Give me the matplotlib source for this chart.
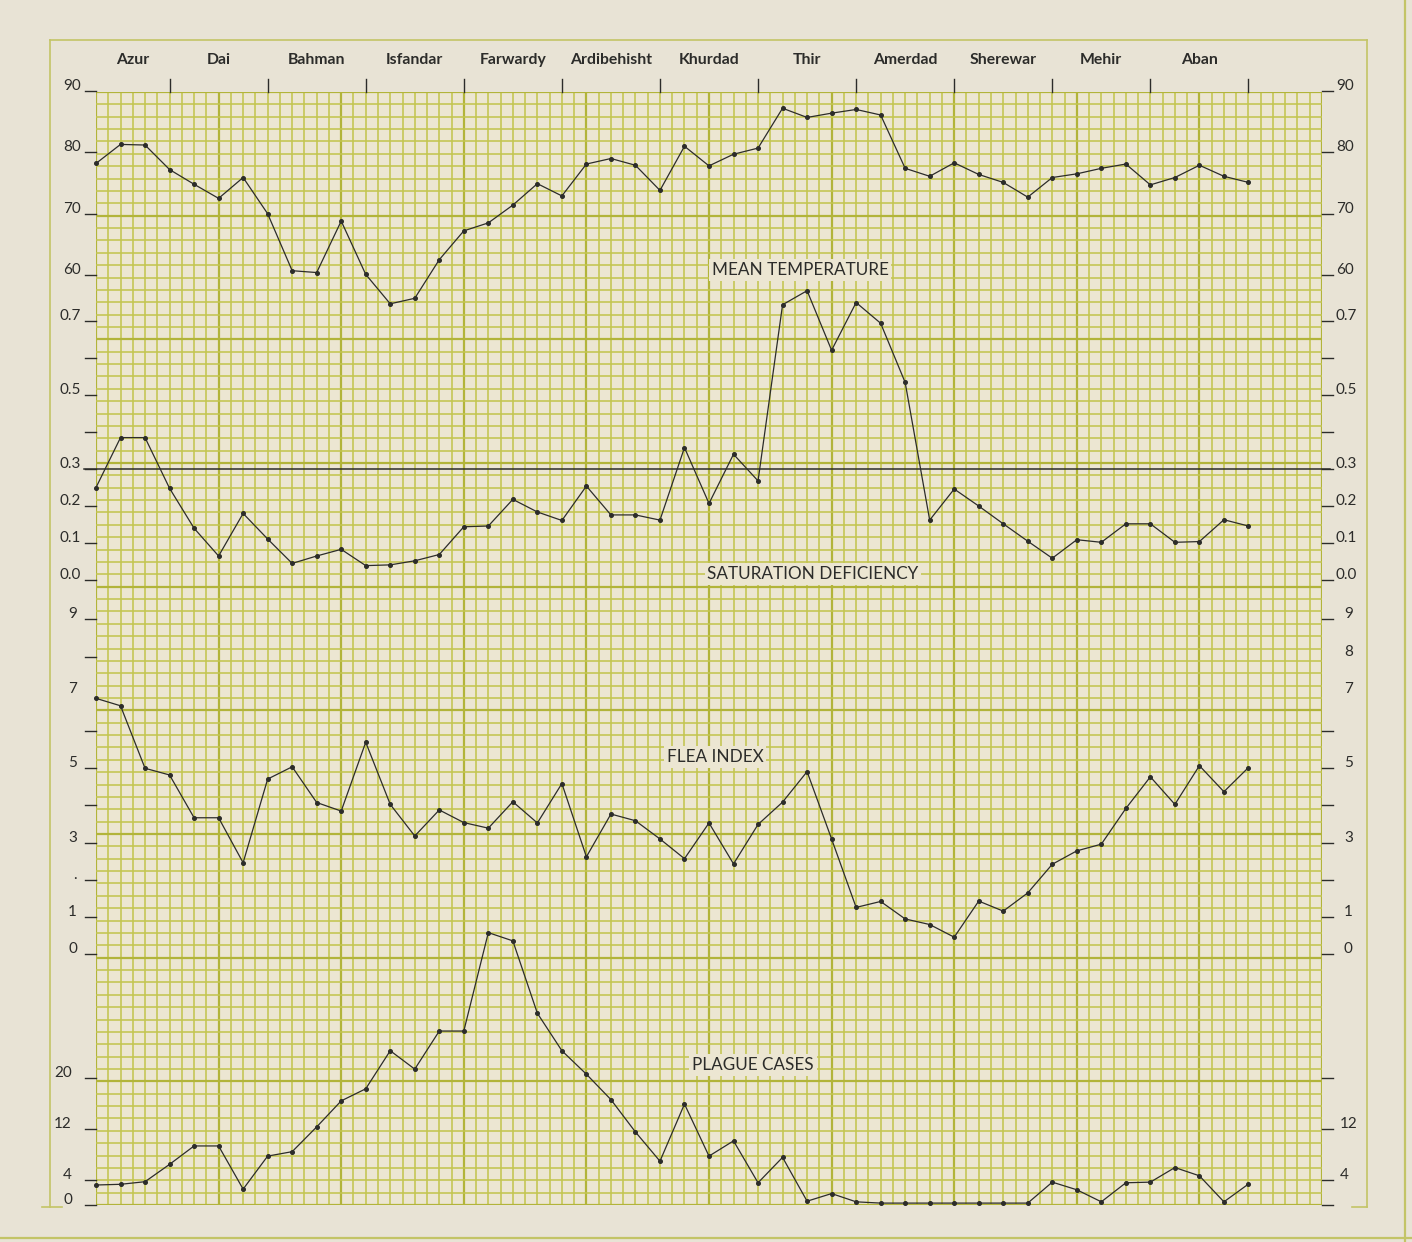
import numpy as np
import matplotlib
matplotlib.use("Agg")
import matplotlib.pyplot as plt
from matplotlib.lines import Line2D
from matplotlib.transforms import blended_transform_factory, ScaledTranslation

plt.rcParams['font.family'] = ['Lato', 'DejaVu Sans']

# ---- data: weekly readings, Azur through Aban ----
months = ["Azur", "Dai", "Bahman", "Isfandar", "Farwardy", "Ardibehisht",
          "Khurdad", "Thir", "Amerdad", "Sherewar", "Mehir", "Aban"]
month_ends = [3, 7, 11, 15, 19, 23, 27, 31, 35, 39, 43, 47]

mean_temp = [78.2, 81.3, 81.2, 77.2, 74.8, 72.5, 75.9, 70.0, 60.7, 60.4,
             68.8, 60.1, 55.3, 56.2, 62.5, 67.2, 68.5, 71.4, 74.9, 72.9,
             78.1, 79.0, 77.9, 73.8, 81.0, 77.8, 79.7, 80.7, 87.2, 85.7,
             86.4, 87.0, 86.1, 77.4, 76.1, 78.3, 76.4, 75.1, 72.7, 75.9,
             76.5, 77.4, 78.1, 74.7, 75.9, 77.9, 76.1, 75.1]

sat_deficiency = [0.25, 0.385, 0.385, 0.248, 0.14, 0.065, 0.18, 0.111, 0.045, 0.065,
                  0.083, 0.039, 0.041, 0.052, 0.069, 0.144, 0.146, 0.218, 0.184, 0.161,
                  0.254, 0.176, 0.176, 0.162, 0.358, 0.207, 0.34, 0.268, 0.744, 0.782,
                  0.621, 0.75, 0.694, 0.534, 0.162, 0.246, 0.2, 0.152, 0.105, 0.059,
                  0.109, 0.102, 0.152, 0.152, 0.102, 0.104, 0.163, 0.146]

flea_index = [6.88, 6.68, 5.0, 4.82, 3.67, 3.67, 2.46, 4.71, 5.04, 4.08,
              3.85, 5.70, 4.03, 3.18, 3.88, 3.54, 3.39, 4.10, 3.53, 4.59,
              2.62, 3.77, 3.59, 3.10, 2.57, 3.53, 2.43, 3.49, 4.09, 4.91,
              3.1, 1.26, 1.42, 0.95, 0.80, 0.46, 1.43, 1.16, 1.65, 2.42,
              2.78, 2.96, 3.92, 4.77, 4.03, 5.07, 4.37, 5.02]

plague_cases = [3.15, 3.26, 3.67, 6.4, 9.3, 9.3, 2.5, 7.7, 8.4, 12.3,
                16.4, 18.3, 24.3, 21.4, 27.4, 27.4, 42.9, 41.6, 30.2, 24.3,
                20.6, 16.6, 11.5, 6.9, 15.9, 7.7, 10.1, 3.5, 7.5, 0.6,
                1.8, 0.5, 0.3, 0.3, 0.3, 0.3, 0.3, 0.3, 0.3, 3.6,
                2.4, 0.5, 3.5, 3.6, 5.9, 4.6, 0.5, 3.3]

weeks = np.arange(len(mean_temp))

# vertical range of each curve over the full sheet
temp_lim = (-91.7, 89.85)
sat_lim = (-1.689, 1.319)
flea_lim = (-6.74, 23.18)
plague_lim = (0, 175.3)
sat_reference = 0.3

# scale marks: (ticks, labelled values) for the left and right margins
temp_ticks = [90, 80, 70, 60]
temp_labels = [(v, str(v)) for v in temp_ticks]
sat_ticks = [0.7, 0.6, 0.5, 0.4, 0.3, 0.2, 0.1, 0.0]
sat_labels = [(v, f"{v:.1f}") for v in [0.7, 0.5, 0.3, 0.2, 0.1, 0.0]]
flea_ticks_left = [9, 8, 6, 5, 4, 3, 2, 1, 0]
flea_labels_left = [(9, "9"), (7, "7"), (5, "5"), (3, "3"), (2, "."), (1, "1"), (0, "0")]
flea_ticks_right = [9, 6, 5, 4, 3, 2, 1, 0]
flea_labels_right = [(v, str(v)) for v in [9, 8, 7, 5, 3, 1, 0]]
plague_ticks = [20, 12, 4, 0]
plague_labels_left = [(v, str(v)) for v in [20, 12, 4, 0]]
plague_labels_right = [(v, str(v)) for v in [12, 4]]

# ---- styling ----
PAGE = "#e8e3d5"
CELL = "#ece6d2"
GRID = "#c3c550"
GRID_HEAVY = "#b2b43a"
FRAME = "#c3c466"
INK = "#2c2c2a"

FIG_W, FIG_H = 1412, 1242
LEFT_PX, RIGHT_PX, TOP_PX, BOTTOM_PX = 96, 1322, 92, 1205
rect = [LEFT_PX / FIG_W, 1 - BOTTOM_PX / FIG_H,
        (RIGHT_PX - LEFT_PX) / FIG_W, (BOTTOM_PX - TOP_PX) / FIG_H]


def ax_x(px):
    return (px - LEFT_PX) / (RIGHT_PX - LEFT_PX)


def ax_y(px):
    return (BOTTOM_PX - px) / (BOTTOM_PX - TOP_PX)


fig = plt.figure(figsize=(FIG_W / 100, FIG_H / 100), dpi=100)
fig.patch.set_facecolor(PAGE)

# graph paper: 100 x 90 cells, heavier rule every tenth line
paper = fig.add_axes(rect)
paper.set_facecolor(CELL)
paper.set_xlim(0, 100)
paper.set_ylim(0, 90)
paper.set_xticks([])
paper.set_yticks([])
for s in paper.spines.values():
    s.set_visible(False)
for k in range(101):
    heavy = k % 10 == 0
    paper.axvline(k, color=GRID_HEAVY if heavy else GRID, lw=1.6 if heavy else 1.15, zorder=1)
for k in range(91):
    heavy = k % 10 == 0
    paper.axhline(k, color=GRID_HEAVY if heavy else GRID, lw=1.6 if heavy else 1.15, zorder=1)

titles = [("MEAN TEMPERATURE", 800, 270), ("SATURATION DEFICIENCY", 813, 574),
          ("FLEA INDEX", 715, 757), ("PLAGUE CASES", 753, 1065)]
for text, px, py in titles:
    paper.text(ax_x(px), ax_y(py), text, transform=paper.transAxes, ha="center", va="center",
               fontsize=12.3, color=INK, zorder=5,
               bbox=dict(facecolor=CELL, edgecolor="none", pad=2.0))

lift = ScaledTranslation(0, 1.0 / 100, fig.dpi_scale_trans)


def curve_axes(ylim):
    ax = fig.add_axes(rect)
    ax.set_facecolor("none")
    ax.set_xlim(0, 50)
    ax.set_ylim(*ylim)
    ax.axis("off")
    return ax


def draw_scale(ax, ticks, labels, side, text_px):
    trans = blended_transform_factory(ax.transAxes, ax.transData)
    if side == "left":
        x0, x1, ha = ax_x(LEFT_PX - 11), 0.0, "right"
    else:
        x0, x1, ha = 1.0, ax_x(RIGHT_PX + 11), "left"
    for t in ticks:
        ax.plot([x0, x1], [t, t], transform=trans, color=INK, lw=1.0, clip_on=False)
    for value, text in labels:
        ax.text(ax_x(text_px), value, text, transform=trans + lift, ha=ha, va="baseline",
                fontsize=11, color=INK)


def draw_curve(ax, values):
    ax.plot(weeks, values, color=INK, lw=0.9, marker="o", ms=2.6,
            mfc=INK, mec=INK, clip_on=False, zorder=4)


ax_t = curve_axes(temp_lim)
draw_curve(ax_t, mean_temp)
draw_scale(ax_t, temp_ticks, temp_labels, "left", 81)
draw_scale(ax_t, temp_ticks, temp_labels, "right", 1336)

ax_s = curve_axes(sat_lim)
ax_s.axhline(sat_reference, xmin=ax_x(LEFT_PX - 12), xmax=ax_x(RIGHT_PX + 8),
             color=INK, lw=1.1, clip_on=False)
draw_curve(ax_s, sat_deficiency)
draw_scale(ax_s, sat_ticks, sat_labels, "left", 81)
draw_scale(ax_s, sat_ticks, sat_labels, "right", 1336)

ax_f = curve_axes(flea_lim)
draw_curve(ax_f, flea_index)
draw_scale(ax_f, flea_ticks_left, flea_labels_left, "left", 77)
draw_scale(ax_f, flea_ticks_right, flea_labels_right, "right", 1344)

ax_p = curve_axes(plague_lim)
draw_curve(ax_p, plague_cases)
draw_scale(ax_p, plague_ticks, plague_labels_left, "left", 72)
draw_scale(ax_p, plague_ticks, plague_labels_right, "right", 1340)

# month divisions along the top edge
top = blended_transform_factory(ax_t.transData, ax_t.transAxes)
tick_top = ax_y(TOP_PX - 13)
for end in month_ends:
    ax_t.plot([end, end], [1.0, tick_top], transform=top, color=INK, lw=1.0, clip_on=False)
starts = [0] + month_ends[:-1]
for name, start, end in zip(months, starts, month_ends):
    ax_t.text((start + end) / 2, ax_y(60), name, transform=top, ha="center", va="center",
              fontsize=11.3, fontweight="bold", color=INK)


# sheet border
def border(x0, y0, x1, y1, lw=1.2):
    fig.add_artist(Line2D([x0 / FIG_W, x1 / FIG_W], [1 - y0 / FIG_H, 1 - y1 / FIG_H],
                          transform=fig.transFigure, color=FRAME, lw=lw))


border(50, 40, 1367, 40)
border(50, 40, 50, 1207)
border(1367, 40, 1367, 1207)
border(42, 1207, 62, 1207)
border(1352, 1207, 1367, 1207)
border(0, 1238, FIG_W, 1238, lw=1.6)
border(1405, 0, 1405, FIG_H, lw=1.6)

fig.savefig("out.png", dpi=100, facecolor=PAGE)
